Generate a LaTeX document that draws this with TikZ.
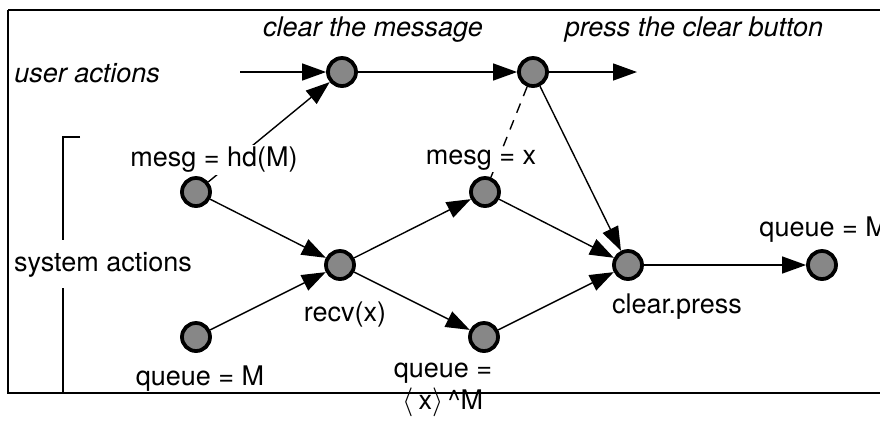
\documentclass[tikz,border=0pt]{standalone}
\usepackage{fontspec}
\setmainfont{TeX Gyre Heros}
\usetikzlibrary{arrows.meta,positioning}
\definecolor{dotgray}{RGB}{135,135,135}

\begin{document}
\begin{tikzpicture}[
  x=0.5pt, y=-0.5pt,
  event/.style={circle, draw, line width=1.9pt, fill=dotgray, minimum size=14pt, inner sep=0pt},
  arrow/.style={-{Triangle[length=12pt, width=8.5pt]}, line width=0.7pt},
  lbl/.style={font=\fontsize{13.5}{15}\selectfont, inner sep=1pt},
  mask/.style={lbl, fill=white},
  ulbl/.style={font=\fontsize{13.5}{15}\selectfont\itshape, inner sep=1pt},
]
\useasboundingbox (0,0) rectangle (880,420);
% Frame and bracket
\draw[line width=0.7pt] (8,10) -- (900,10) (8,10) -- (8,393) -- (900,393);
\draw[line width=0.7pt] (80,137) -- (63,137) -- (63,240) (63,288) -- (63,393) -- (80,393);

% Events
\node[event] (clrmsg) at (342,72) {};
\node[event] (press) at (533,72) {};
\node[event] (hd) at (196,192) {};
\node[event] (mesgx) at (485,192) {};
\node[event] (recv) at (340,265) {};
\node[event] (qm) at (196,337) {};
\node[event] (qx) at (484,337) {};
\node[event] (clear) at (628,265) {};
\node[event] (qmend) at (822,265) {};
\coordinate (ustart) at (240,72);
\coordinate (uend) at (637,72);

% Arrows
\draw[arrow] (ustart) -- (clrmsg);
\draw[arrow] (clrmsg) -- (press);
\draw[arrow] (press) -- (uend);
\draw[arrow] (hd) -- (clrmsg);
\draw[arrow] (hd) -- (recv);
\draw[arrow] (qm) -- (recv);
\draw[arrow] (recv) -- (mesgx);
\draw[arrow] (recv) -- (qx);
\draw[arrow] (mesgx) -- (clear);
\draw[arrow] (qx) -- (clear);
\draw[arrow] (press) -- (clear);
\draw[arrow] (clear) -- (qmend);
\draw[line width=0.7pt, dash pattern=on 5pt off 4pt] (press) -- (mesgx);

% Labels
\node[ulbl, anchor=west] at (12,73) {user actions};
\node[ulbl] at (373,30) {clear the message};
\node[ulbl] at (694,30) {press the clear button};
\node[mask] at (214,160) {mesg = hd(M)};
\node[mask] at (481,160) {mesg = x};
\node[mask] at (103,265) {system actions};
\node[lbl] at (345,315) {recv(x)};
\node[lbl] at (200,379) {queue = M};
\node[lbl] (qxlbl) at (443,373) {queue =};
\node[lbl, below=0pt of qxlbl] {$\langle$\,x$\rangle$\,\textasciicircum M};
\node[lbl] at (677,307) {clear.press};
\node[lbl, anchor=west] at (757,230) {queue = M};
\end{tikzpicture}
\end{document}
